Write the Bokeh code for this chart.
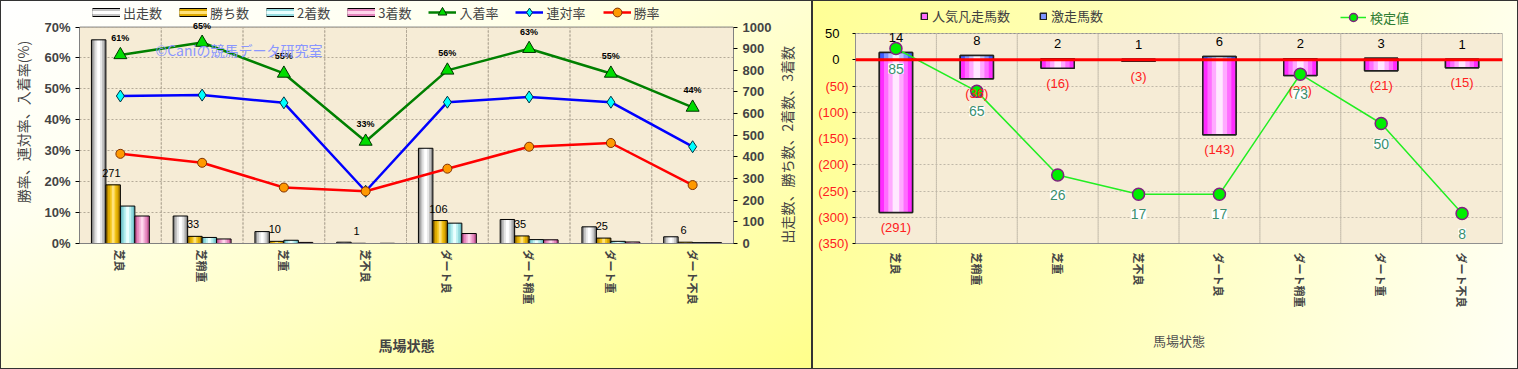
import math
from bokeh.plotting import figure
from bokeh.models import (ColumnDataSource, FactorRange, Range1d, LinearAxis, Legend, LegendItem,
                          LabelSet, Label, BoxAnnotation, FixedTicker,
                          PrintfTickFormatter, CustomJSTickFormatter)
from bokeh.transform import dodge
from bokeh.layouts import row
from bokeh.embed import file_html
from bokeh.resources import INLINE
from bokeh.core.properties import value

# ---------------- data ----------------
categories = ["芝良", "芝稍重", "芝重", "芝不良", "ダート良", "ダート稍重", "ダート重", "ダート不良"]
starts = [941, 127, 55, 6, 440, 111, 77, 31]
wins = [271, 33, 10, 1, 106, 35, 25, 6]
seconds = [173, 28, 15, 0, 94, 18, 10, 4]
thirds = [127, 21, 5, 1, 46, 17, 7, 4]
win_rate = [29.0, 26.1, 18.1, 16.9, 24.2, 31.3, 32.5, 18.9]
rentai_rate = [47.7, 48.0, 45.5, 16.9, 45.7, 47.4, 45.7, 31.3]
nyuchaku_rate = [61, 65, 55, 33, 56, 63, 55, 44]
rate_ticks = [0, 10, 20, 30, 40, 50, 60, 70]
count_ticks = [0, 100, 200, 300, 400, 500, 600, 700, 800, 900, 1000]

gekisou = [14, 8, 2, 1, 6, 2, 3, 1]
ninki_bonsou = [-291, -36, -16, -3, -143, -30, -21, -15]
kentei = [85, 65, 26, 17, 17, 73, 50, 8]
diff_ticks = [-350, -300, -250, -200, -150, -100, -50, 0, 50]
diff_ticks_neg = [-350, -300, -250, -200, -150, -100, -50]
diff_ticks_pos = [0, 50]

FONT = "Noto Sans CJK JP"
NUMF = "Liberation Sans"

# ---------------- left chart ----------------
# frame covers the legend strip too; data area is 0..70 % (0..1000 counts)
L_TOP_PAD = 247 / 220.0
src1 = ColumnDataSource(dict(
    cat=categories, starts=starts, wins=wins, seconds=seconds, thirds=thirds,
    win_rate=win_rate, rentai_rate=rentai_rate, nyuchaku_rate=nyuchaku_rate,
    nyu_lbl=[f"{v:.0f}%" for v in nyuchaku_rate],
    win_lbl=[str(v) for v in wins],
))
proxy1 = ColumnDataSource(dict(x=[categories[0]], y=[float("nan")]))

p1 = figure(x_range=FactorRange(*categories), y_range=Range1d(0, rate_ticks[-1] * L_TOP_PAD),
            width=812, height=369, output_backend="svg", toolbar_location=None,
            min_border_left=79, min_border_right=79, min_border_top=0, min_border_bottom=122)
p1.extra_y_ranges = {"cnt": Range1d(0, count_ticks[-1] * L_TOP_PAD)}
p1.background_fill_color = None
p1.border_fill_color = None
p1.outline_line_color = None
p1.styles = {"background": "linear-gradient(155deg, #ffffff 0%, #fffff0 30%, #ffff8a 100%)",
             "box-shadow": "inset 0 0 0 1px #333333"}

p1.add_layout(BoxAnnotation(bottom=rate_ticks[0], top=rate_ticks[-1], fill_color="#f6ecd6",
                            fill_alpha=1, line_color="#808080", line_alpha=1, line_width=1,
                            level="image"))
p1.xgrid.visible = False
p1.ygrid.grid_line_color = "#b4aa98"
p1.ygrid.grid_line_dash = "2 2"
for i in range(1, len(categories)):
    p1.add_layout(BoxAnnotation(left=i, right=i, bottom=rate_ticks[0], top=rate_ticks[-1],
                                fill_alpha=0, line_color="#b4aa98", line_alpha=1, line_dash="2 2",
                                line_width=1, level="underlay"))

BW = 0.177
bar_specs = [
    ("starts", "出走数", -0.2655, "#8a8a8a", "#c4c4c4", "#e8e8e8", "#ffffff"),
    ("wins", "勝ち数", -0.0885, "#a87c00", "#dca800", "#f2c418", "#ffe27a"),
    ("seconds", "2着数", 0.0885, "#6cbcc4", "#96dce0", "#bff2f2", "#eaffff"),
    ("thirds", "3着数", 0.2655, "#c85a98", "#e384bb", "#f2aad4", "#ffd6ec"),
]
legend_items = []
for field, name, off, c0, c1, c2, c3 in bar_specs:
    xs = dodge("cat", off, range=p1.x_range)
    for frac, c in [(1.0, c0), (0.72, c1), (0.46, c2), (0.2, c3)]:
        p1.vbar(x=xs, top=field, width=BW * frac, source=src1, y_range_name="cnt",
                fill_color=c, line_color=None)
    p1.vbar(x=xs, top=field, width=BW, source=src1, y_range_name="cnt",
            fill_color=None, line_color="#000000", line_width=1)
    # legend swatch (draws nothing in the plot)
    sw_b = p1.line("x", "y", source=proxy1, line_color="#000000", line_width=9)
    sw_c = p1.line("x", "y", source=proxy1, line_color=c1, line_width=7)
    sw_h = p1.line("x", "y", source=proxy1, line_color=c3, line_width=3)
    legend_items.append(LegendItem(label=name, renderers=[sw_b, sw_c, sw_h]))

l_nyu = p1.line("cat", "nyuchaku_rate", source=src1, line_color="#008000", line_width=2.5)
s_nyu = p1.scatter("cat", "nyuchaku_rate", source=src1, marker="triangle", size=13,
                   fill_color="#00dd00", line_color="#003300", line_width=1)
l_ren = p1.line("cat", "rentai_rate", source=src1, line_color="#0000ff", line_width=2.5)
s_ren = p1.scatter("cat", "rentai_rate", source=src1, marker="diamond", size=12,
                   fill_color="#00ffff", line_color="#003040", line_width=1)
l_win = p1.line("cat", "win_rate", source=src1, line_color="#ff0000", line_width=2.5)
s_win = p1.scatter("cat", "win_rate", source=src1, marker="circle", size=9,
                   fill_color="#ff9900", line_color="#803000", line_width=1)
legend_items += [LegendItem(label="入着率", renderers=[l_nyu, s_nyu]),
                 LegendItem(label="連対率", renderers=[l_ren, s_ren]),
                 LegendItem(label="勝率", renderers=[l_win, s_win])]

p1.add_layout(LabelSet(x="cat", y="nyuchaku_rate", text="nyu_lbl", source=src1, y_offset=17,
                       text_align="center", text_baseline="middle", text_font=value(NUMF),
                       text_font_size="9px", text_font_style="bold", text_color="#000000"))
p1.add_layout(LabelSet(x="cat", y="wins", text="win_lbl", source=src1, y_range_name="cnt",
                       x_offset=-9, y_offset=12, text_align="center", text_baseline="middle",
                       text_font=value(NUMF), text_font_size="11px", text_color="#000000"))

p1.add_layout(Label(x=0.93, y=62.7, text="©Caniの競馬データ研究室", text_color="#8a96ff",
                    text_font=FONT, text_font_size="14px", text_baseline="middle"))

leg1 = Legend(items=legend_items, location=(13, 220), orientation="horizontal",
              glyph_width=28, glyph_height=22, label_standoff=3, spacing=17, padding=0, margin=0,
              border_line_color=None, background_fill_alpha=0, label_text_font=FONT,
              label_text_font_size="13px", label_height=14)
p1.add_layout(leg1, "center")

ya = p1.yaxis[0]
ya.ticker = FixedTicker(ticks=rate_ticks)
ya.bounds = (rate_ticks[0], rate_ticks[-1])
ya.formatter = PrintfTickFormatter(format="%d%%")
ya.axis_label = "勝率、連対率、入着率(%)"
ya.axis_label_text_font = FONT
ya.axis_label_text_font_size = "14px"
ya.axis_label_text_font_style = "normal"
ya.axis_label_standoff = 8
ya.major_label_text_font = NUMF
ya.major_label_text_font_style = "bold"
ya.major_label_text_font_size = "13px"
ya.minor_tick_line_color = None
ya.major_tick_out = 4
ya.major_tick_in = 0
ya.axis_line_color = "#808080"

ax_r = LinearAxis(y_range_name="cnt", ticker=FixedTicker(ticks=count_ticks),
                  bounds=(count_ticks[0], count_ticks[-1]),
                  axis_label="出走数、勝ち数、2着数、3着数")
ax_r.axis_label_text_font = FONT
ax_r.axis_label_text_font_size = "14px"
ax_r.axis_label_text_font_style = "normal"
ax_r.axis_label_standoff = 13
ax_r.axis_label_orientation = math.pi / 2
try:
    ax_r.axis_label_align = "start"
except Exception:
    pass
ax_r.major_label_text_font = NUMF
ax_r.major_label_text_font_style = "bold"
ax_r.major_label_text_font_size = "13px"
ax_r.minor_tick_line_color = None
ax_r.major_tick_out = 4
ax_r.major_tick_in = 0
ax_r.axis_line_color = "#808080"
p1.add_layout(ax_r, "right")

xa = p1.xaxis[0]
xa.major_label_orientation = "vertical"
xa.major_label_text_font = FONT
xa.major_label_text_font_style = "bold"
xa.major_label_text_font_size = "11px"
xa.major_label_standoff = 6
xa.major_tick_out = 0
xa.major_tick_in = 0
xa.axis_line_color = "#808080"
xa.axis_label = "馬場状態"
xa.axis_label_text_font = FONT
xa.axis_label_text_font_size = "14px"
xa.axis_label_text_font_style = "bold"
xa.axis_label_standoff = 28

# ---------------- right chart ----------------
R_TOP = diff_ticks[-1] + 33 * (diff_ticks[-1] - diff_ticks[0]) / 210.0
src2 = ColumnDataSource(dict(
    cat=categories, geki=gekisou, ninki=ninki_bonsou, kentei=kentei,
    geki_lbl=[str(v) for v in gekisou],
    ninki_lbl=[f"({-v})" for v in ninki_bonsou],
    kentei_lbl=[str(v) for v in kentei],
))

p2 = figure(x_range=FactorRange(*categories), y_range=Range1d(diff_ticks[0], R_TOP),
            width=706, height=369, output_backend="svg", toolbar_location=None,
            min_border_left=43, min_border_right=16, min_border_top=0, min_border_bottom=126)
p2.extra_y_ranges = {"kentei": Range1d(-6, 107.4)}
p2.background_fill_color = None
p2.border_fill_color = None
p2.outline_line_color = None
p2.styles = {"background": "linear-gradient(100deg, #ffff96 0%, #ffffc0 50%, #fffff4 100%)",
             "box-shadow": "inset 0 0 0 1px #333333"}

p2.add_layout(BoxAnnotation(bottom=diff_ticks[0], top=diff_ticks[-1], fill_color="#f6ecd6",
                            fill_alpha=1, line_color="#909090", line_alpha=1, line_width=1,
                            level="image"))
p2.xgrid.visible = False
p2.ygrid.grid_line_color = "#c0b8a8"
p2.ygrid.grid_line_dash = "2 2"
for i in range(1, len(categories)):
    p2.add_layout(BoxAnnotation(left=i, right=i, bottom=diff_ticks[0], top=diff_ticks[-1],
                                fill_alpha=0, line_color="#c0b8a8", line_alpha=1, line_dash="2 2",
                                line_width=1, level="underlay"))

RBW = 0.41
rbar_specs = [
    ("ninki", "人気凡走馬数", "#ff2cff", "#ff6eff", "#ffaaff", "#ffe8ff"),
    ("geki", "激走馬数", "#3c5cff", "#7f96ff", "#b8c6ff", "#f0f3ff"),
]
rbar_items = []
for field, name, c0, c1, c2, c3 in rbar_specs:
    base = p2.vbar(x="cat", top=field, bottom=0, width=RBW, source=src2,
                   fill_color=c1, line_color="#202020", line_width=1.5)
    for frac, c in [(1.0, c0), (0.72, c1), (0.46, c2), (0.2, c3)]:
        p2.vbar(x="cat", top=field, bottom=0, width=RBW * frac, source=src2,
                fill_color=c, line_color=None)
    p2.vbar(x="cat", top=field, bottom=0, width=RBW, source=src2,
            fill_color=None, line_color="#202020", line_width=1.5)
    rbar_items.append(LegendItem(label=name, renderers=[base]))

# zero line
p2.add_layout(BoxAnnotation(bottom=0, top=0, fill_alpha=0, line_color="#ff0000",
                            line_alpha=1, line_width=3))

l_k = p2.line("cat", "kentei", source=src2, y_range_name="kentei", line_color="#22ee22", line_width=1.5)
s_k = p2.scatter("cat", "kentei", source=src2, y_range_name="kentei", marker="circle", size=12,
                 fill_color="#00ee00", line_color="#802080", line_width=1.5)

p2.add_layout(LabelSet(x="cat", y="geki", text="geki_lbl", source=src2, y_offset=15,
                       text_align="center", text_baseline="middle", text_font=value(NUMF),
                       text_font_size="13px", text_color="#000000"))
p2.add_layout(LabelSet(x="cat", y="ninki", text="ninki_lbl", source=src2, y_offset=-15,
                       text_align="center", text_baseline="middle", text_font=value(NUMF),
                       text_font_size="13px", text_color="#ff2020"))
p2.add_layout(LabelSet(x="cat", y="kentei", text="kentei_lbl", source=src2, y_range_name="kentei",
                       y_offset=-20, text_align="center", text_baseline="middle",
                       text_font=value(NUMF), text_font_size="14px", text_color="#3a8f6e",
                       background_fill_color="#ffffff"))

leg2 = Legend(items=rbar_items, location=(65, 218), orientation="horizontal",
              glyph_width=8, glyph_height=8, label_standoff=4, spacing=29, padding=0, margin=0,
              border_line_color=None, background_fill_alpha=0, label_text_font=FONT,
              label_text_font_size="13px", label_text_color="#404040", label_height=14)
leg3 = Legend(items=[LegendItem(label="検定値", renderers=[l_k, s_k])],
              location=(485, 216), orientation="horizontal",
              glyph_width=26, glyph_height=20, label_standoff=4, padding=0, margin=0,
              border_line_color=None, background_fill_alpha=0, label_text_font=FONT,
              label_text_font_size="13px", label_text_color="#2e7d32", label_height=14)
p2.add_layout(leg2, "center")
p2.add_layout(leg3, "center")

# inner axis: red negative labels in parentheses
ya2 = p2.yaxis[0]
ya2.ticker = FixedTicker(ticks=diff_ticks)
ya2.bounds = (diff_ticks[0], diff_ticks[-1])
ya2.formatter = CustomJSTickFormatter(code="return tick < 0 ? '(' + (-tick) + ')' : '';")
ya2.major_label_text_color = "#ff2020"
ya2.major_label_text_font = NUMF
ya2.major_label_text_font_size = "13px"
ya2.major_label_standoff = 4
ya2.major_tick_out = 3
ya2.major_tick_in = 0
ya2.minor_tick_line_color = None
ya2.axis_line_color = "#909090"

# outer axis: black labels for 0 and 50, pulled back over the inner axis labels
ya2b = LinearAxis(ticker=FixedTicker(ticks=diff_ticks_pos),
                  bounds=(diff_ticks_pos[0], diff_ticks_pos[-1]))
ya2b.major_label_text_color = "#000000"
ya2b.major_label_text_font = NUMF
ya2b.major_label_text_font_size = "13px"
ya2b.major_label_standoff = -30
ya2b.major_tick_line_color = None
ya2b.minor_tick_line_color = None
ya2b.axis_line_color = None
p2.add_layout(ya2b, "left")

xa2 = p2.xaxis[0]
xa2.major_label_orientation = "vertical"
xa2.major_label_text_font = FONT
xa2.major_label_text_font_style = "bold"
xa2.major_label_text_font_size = "11px"
xa2.major_label_standoff = 9
xa2.major_tick_out = 0
xa2.major_tick_in = 0
xa2.axis_line_color = "#909090"
xa2.axis_label = "馬場状態"
xa2.axis_label_text_font = FONT
xa2.axis_label_text_font_size = "13px"
xa2.axis_label_text_font_style = "normal"
xa2.axis_label_text_color = "#505050"
xa2.axis_label_standoff = 21

layout = row(p1, p2, spacing=0)
open("out.html", "w").write(file_html(layout, INLINE))
